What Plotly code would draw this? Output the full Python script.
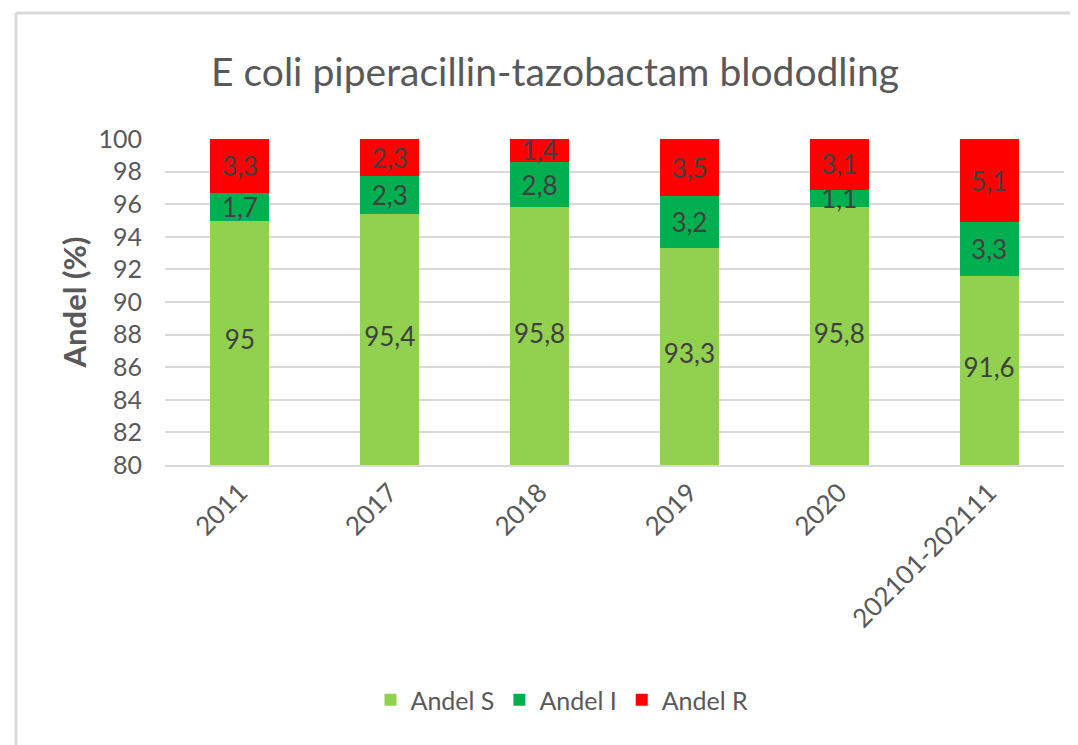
import plotly.graph_objects as go

categories = ["2011", "2017", "2018", "2019", "2020", "202101-202111"]
andel_s = [95, 95.4, 95.8, 93.3, 95.8, 91.6]
andel_i = [1.7, 2.3, 2.8, 3.2, 1.1, 3.3]
andel_r = [3.3, 2.3, 1.4, 3.5, 3.1, 5.1]
y_min, y_max = 80, 100
y_ticks = list(range(80, 101, 2))

FONT = "Lato"
TXT = "#404040"
GRAY = "#595959"

W, H = 1070, 737
L, T, PW, PH = 157, 131, 899, 326


def lbl(vals):
    return [f"{v:g}".replace(".", ",") for v in vals]


fig = go.Figure()
for name, vals, col, show_txt in [("Andel S", andel_s, "#92D050", False),
                                  ("Andel I", andel_i, "#00B050", True),
                                  ("Andel R", andel_r, "#FF0000", True)]:
    fig.add_trace(go.Bar(
        x=categories, y=vals, name=name, marker=dict(color=col, line=dict(width=0)),
        text=lbl(vals) if show_txt else None,
        textposition="inside" if show_txt else "none", insidetextanchor="middle",
        constraintext="none", textangle=0,
        insidetextfont=dict(family=FONT, size=26, color=TXT),
        hoverinfo="x+y+name",
    ))

# labels of the S segment, centred in its visible part (axis starts at y_min)
fig.add_trace(go.Scatter(
    x=categories, y=[(y_min + v) / 2 for v in andel_s], mode="text",
    text=lbl(andel_s), textfont=dict(family=FONT, size=26, color=TXT),
    showlegend=False, hoverinfo="skip",
))

fig.update_layout(
    width=W, height=H,
    barmode="stack", bargap=0.607,
    paper_bgcolor="white", plot_bgcolor="white",
    margin=dict(l=L, r=W - L - PW, t=T, b=H - T - PH, autoexpand=False),
    font=dict(family=FONT, color=GRAY),
    title=dict(text="E coli piperacillin-tazobactam blododling", x=547 / W, xanchor="center",
               y=1 - 64 / H, yanchor="middle", font=dict(family=FONT, size=39, color=GRAY)),
    legend=dict(orientation="h", x=(554 - L) / PW, xanchor="center",
                y=(T + PH - 692) / PH, yanchor="middle",
                font=dict(family=FONT, size=25, color=GRAY), traceorder="normal"),
    showlegend=True,
)
fig.update_yaxes(range=[y_min, y_max], tickvals=y_ticks, showgrid=True, gridcolor="#D9D9D9", gridwidth=2,
                 zeroline=False, showline=False, ticks="", ticklabelstandoff=22,
                 tickfont=dict(family=FONT, size=25, color=GRAY),
                 title=dict(text="<b>Andel (%)</b>", font=dict(family=FONT, size=31, color=GRAY),
                            standoff=2))
fig.update_xaxes(showline=True, linecolor="#D9D9D9", linewidth=2, ticks="", tickangle=-45,
                 tickfont=dict(family=FONT, size=26, color=GRAY))

# outer chart frame (top and left edges)
top = (T + PH - 5) / PH
left = (8 - L) / PW
fig.add_shape(type="line", xref="paper", yref="paper",
              x0=left, x1=(W - L) / PW, y0=top, y1=top,
              line=dict(color="#D9D9D9", width=3))
fig.add_shape(type="line", xref="paper", yref="paper",
              x0=left, x1=left, y0=top, y1=(T + PH - H) / PH,
              line=dict(color="#D9D9D9", width=3))

fig.write_html("out.html")
